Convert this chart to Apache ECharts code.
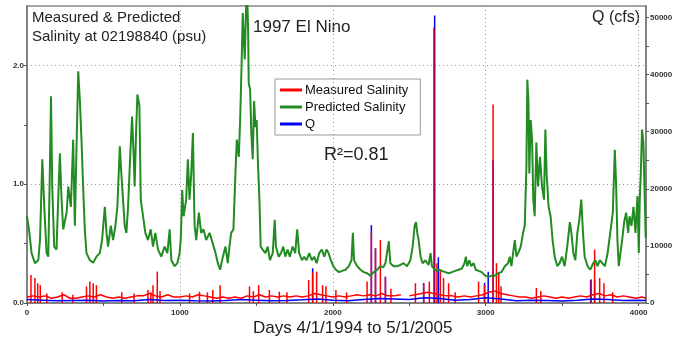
<!DOCTYPE html>
<html><head><meta charset="utf-8">
<script src="https://cdn.jsdelivr.net/npm/echarts@6/dist/echarts.min.js"></script>
<style>html,body{margin:0;padding:0;background:#fff}#c{width:686px;height:344px}</style>
</head><body><div id="c"></div>
<script>
// Predicted salinity (psu) — green
const predDays = [0,13,30,52,74,85,100,113,128,139,150,157,165,178,193,204,215,226,237,259,270,287,302,313,324,335,346,357,367,378,389,411,433,454,476,491,509,520,530,548,563,578,591,607,617,628,639,650,661,674,687,696,704,713,722,735,744,759,774,791,809,824,839,857,878,900,918,933,944,965,983,998,1006,1015,1024,1041,1052,1063,1074,1085,1096,1107,1124,1139,1154,1172,1194,1215,1233,1248,1263,1281,1298,1313,1324,1335,1350,1363,1372,1385,1394,1403,1411,1418,1424,1433,1440,1446,1450,1459,1467,1476,1485,1494,1502,1511,1520,1528,1541,1559,1574,1589,1607,1620,1628,1646,1661,1676,1689,1704,1719,1737,1754,1767,1780,1798,1813,1828,1846,1863,1878,1894,1911,1928,1944,1959,1972,1987,2003,2020,2040,2061,2083,2105,2122,2131,2139,2159,2181,2202,2224,2246,2268,2290,2311,2330,2344,2366,2376,2398,2420,2442,2463,2485,2507,2522,2535,2544,2552,2561,2574,2587,2605,2626,2639,2648,2666,2681,2696,2713,2735,2757,2779,2800,2822,2844,2861,2870,2879,2892,2905,2920,2935,2953,2974,2996,3018,3040,3060,3081,3103,3125,3146,3157,3168,3179,3190,3201,3212,3229,3244,3255,3266,3272,3279,3285,3294,3303,3311,3320,3331,3342,3355,3368,3381,3390,3398,3411,3424,3437,3451,3468,3483,3499,3516,3533,3550,3560,3573,3586,3599,3612,3625,3636,3647,3666,3683,3703,3718,3731,3746,3762,3779,3797,3814,3831,3844,3853,3861,3870,3881,3892,3905,3918,3931,3940,3953,3966,3979,3992,4001,4007,4014,4022,4031,4040,4046];
const predVals = [0.73,0.62,0.42,0.335,0.36,0.53,1.21,0.81,0.42,0.39,1.15,1.74,0.98,0.475,0.45,0.87,1.26,0.87,0.62,0.76,0.98,0.81,1.375,0.65,1.32,1.95,1.70,1.35,0.98,0.62,0.42,0.36,0.34,0.39,0.42,0.53,0.81,0.59,0.475,0.65,0.53,0.65,0.81,1.32,1.09,0.87,0.65,0.59,0.81,1.21,1.57,1.29,0.98,1.43,1.755,1.66,0.87,0.73,0.59,0.53,0.62,0.475,0.59,0.45,0.39,0.475,0.42,0.62,0.36,0.31,0.335,0.42,0.55,0.95,0.73,0.87,1.21,0.87,1.09,1.43,0.65,0.53,0.76,0.59,0.62,0.53,0.59,0.50,0.42,0.335,0.28,0.39,0.475,0.335,0.475,0.59,0.62,1.09,1.375,1.23,1.54,1.99,2.44,2.22,2.05,2.5,2.6,2.3,1.85,1.80,1.43,1.21,1.70,1.48,1.54,1.15,0.87,0.475,0.45,0.42,0.475,0.36,0.42,0.70,0.475,0.39,0.42,0.475,0.39,0.45,0.39,0.475,0.42,0.62,0.42,0.36,0.39,0.36,0.42,0.36,0.39,0.335,0.42,0.45,0.39,0.45,0.42,0.36,0.31,0.28,0.26,0.27,0.28,0.31,0.36,0.59,0.36,0.31,0.28,0.26,0.25,0.23,0.26,0.28,0.31,0.30,0.335,0.52,0.335,0.31,0.31,0.32,0.335,0.31,0.36,0.475,0.65,0.68,0.59,0.53,0.39,0.335,0.36,0.32,0.42,0.31,0.28,0.27,0.28,0.27,0.26,0.25,0.26,0.27,0.28,0.29,0.335,0.39,0.31,0.36,0.31,0.335,0.28,0.27,0.26,0.23,0.22,0.23,0.23,0.25,0.26,0.31,0.335,0.39,0.31,0.42,0.53,0.39,0.42,0.475,0.59,0.65,1.15,1.88,1.70,1.09,1.54,1.375,0.87,0.73,1.35,0.98,1.23,0.98,0.87,1.46,1.09,0.81,0.73,0.53,0.39,0.31,0.335,0.39,0.31,0.475,0.68,0.59,0.42,0.36,0.59,0.70,0.87,0.59,0.39,0.31,0.28,0.335,0.36,0.31,0.36,0.335,0.31,0.42,0.59,0.76,1.29,0.98,0.53,0.31,0.42,0.53,0.68,0.76,0.59,0.73,0.65,0.81,0.59,0.90,0.42,0.87,1.09,1.46,1.35,0.87,0.55];

// Measured salinity (psu) — red: baseline readings and spikes
const measBaseDays = [0,40,80,120,160,200,240,280,320,360,400,440,480,520,560,600,640,680,720,760,800,840,880,920,960,1000,1040,1080,1120,1160,1200,1240,1280,1320,1360,1400,1440,1480,1520,1560,1600,1640,1680,1720,1760,1800,1840,1880,1920,1960,2000,2040,2080,2120,2160,2200,2240,2280,2320,2360,2400,2445,2470,2500,2540,2580,2620,2660,2700,2740,2780,2820,2860,2900,2940,2980,3020,3060,3100,3140,3180,3220,3260,3300,3340,3380,3420,3460,3500,3540,3580,3620,3660,3700,3740,3780,3820,3860,3900,3940,3980,4020,4048];
const measBaseVals = [0.05,0.06,0.05,0.06,0.04,0.05,0.07,0.04,0.04,0.05,0.06,0.05,0.07,0.05,0.04,0.05,0.04,0.05,0.06,0.06,0.08,0.06,0.05,0.07,0.05,0.05,0.06,0.05,0.07,0.06,0.05,0.04,0.05,0.04,0.05,0.04,0.06,0.05,0.07,0.05,0.06,0.05,0.06,0.05,0.06,0.05,0.06,0.08,0.07,0.06,0.05,0.06,0.05,0.06,0.07,0.06,0.07,0.06,0.08,0.06,0.06,0.07,null,0.06,0.07,0.08,0.09,0.08,0.07,0.06,0.06,0.05,0.06,0.05,0.06,0.07,0.09,0.10,0.08,0.07,0.06,0.05,0.05,0.04,0.05,0.06,0.05,0.04,0.05,0.04,0.05,0.06,0.05,0.07,0.08,0.06,0.07,0.05,0.06,0.05,0.04,0.05,0.04];
const measSpikeDays = [26,52,70,87,130,230,300,389,411,433,454,620,700,791,810,824,852,870,1063,1128,1180,1215,1263,1455,1480,1515,1585,1650,1700,1842,1868,1894,1933,1955,2020,2090,2224,2252,2279,2311,2344,2380,2540,2594,2631,2661,2681,2703,2724,2757,2800,2953,2992,3048,3070,3085,3100,3331,3360,3690,3712,3745,3773,3830];
const measSpikeVals = [0.236,0.21,0.166,0.15,0.08,0.09,0.07,0.14,0.18,0.166,0.15,0.09,0.08,0.11,0.09,0.15,0.264,0.10,0.08,0.095,0.09,0.11,0.15,0.14,0.10,0.15,0.11,0.095,0.09,0.194,0.256,0.264,0.15,0.14,0.11,0.09,0.18,0.59,0.46,0.53,0.22,0.12,0.166,0.16,0.18,2.32,0.335,0.28,0.21,0.166,0.09,0.18,0.15,1.67,0.335,0.256,0.14,0.127,0.10,0.20,0.45,0.21,0.166,0.09];

// Q (cfs) — blue
const qBaseDays = [0,100,200,300,400,500,600,700,800,900,1000,1100,1200,1300,1400,1500,1600,1700,1800,1900,2000,2100,2200,2300,2400,2500,2600,2700,2800,2900,3000,3100,3200,3300,3400,3500,3600,3700,3800,3900,4000,4048];
const qBaseVals = [600,500,400,450,500,350,450,400,600,450,500,400,350,450,600,500,400,450,550,700,500,400,600,800,700,600,900,800,500,600,900,700,400,500,450,350,500,700,600,450,500,450];
const qSpikeDays = [1868,2252,2279,2344,2594,2666,2690,2992,3016,3048,3686,3712];
const qSpikeVals = [6070,13640,9560,4600,3500,50350,8000,3500,5470,25000,4000,4000];

const xLabels = [0,1000,2000,3000,4000];
const leftLabels = [0,1,2];
const rightLabels = [0,10000,20000,30000,40000,50000];

const pairs = (a, b) => a.map((d, i) => [d, b[i]]);
const FONT = 'Liberation Sans, Arial, sans-serif';
const tickLbl = {fontSize: 8, fontWeight: 'bold', color: '#333', fontFamily: FONT};

const chart = echarts.init(document.getElementById('c'), null, {renderer: 'canvas'});
chart.setOption({
  animation: false,
  backgroundColor: '#fff',
  grid: {left: 27, right: 40, top: 6, bottom: 41, show: true, borderColor: '#888', borderWidth: 1.5},
  xAxis: {
    type: 'value', min: 0, max: 4048, interval: 500,
    axisLine: {lineStyle: {color: '#777', width: 1.5}},
    axisTick: {length: 3, lineStyle: {color: '#555'}},
    axisLabel: Object.assign({margin: 6, showMaxLabel: false,
      formatter: v => xLabels.includes(v) ? String(v) : ''}, tickLbl),
    splitLine: {show: true, lineStyle: {type: [1, 3], color: ['#999', 'transparent'], width: 1}}
  },
  yAxis: [{
    type: 'value', min: 0, max: 2.5, interval: 0.5, position: 'left',
    axisLine: {show: true, lineStyle: {color: '#777', width: 1.5}},
    axisTick: {show: true, length: 3, lineStyle: {color: '#555'}},
    axisLabel: Object.assign({margin: 3, showMaxLabel: false,
      formatter: v => leftLabels.includes(v) ? v.toFixed(1) : ''}, tickLbl),
    splitLine: {show: true, lineStyle: {type: [1, 3], color: ['#999', 'transparent'], width: 1}}
  }, {
    type: 'value', min: 0, max: 52000, interval: 5000, position: 'right',
    axisLine: {show: true, lineStyle: {color: '#777', width: 1.5}},
    axisTick: {show: true, length: 3, lineStyle: {color: '#555'}},
    axisLabel: Object.assign({margin: 4, showMaxLabel: false,
      formatter: v => rightLabels.includes(v) ? String(v) : ''}, tickLbl),
    splitLine: {show: false}
  }],
  legend: {
    data: ['Measured Salinity', 'Predicted Salinity', 'Q'],
    orient: 'vertical', left: 275, top: 79, icon: 'rect',
    itemWidth: 22, itemHeight: 3, itemGap: 1, padding: [3, 12, 3, 5],
    borderColor: '#999', borderWidth: 1,
    textStyle: {fontSize: 13, color: '#111', fontFamily: FONT, lineHeight: 16, padding: [0, 0, 0, -2]}
  },
  series: [
    {name: 'Predicted Salinity', type: 'line', yAxisIndex: 0, data: pairs(predDays, predVals),
     showSymbol: false, lineStyle: {color: '#228b22', width: 2}, itemStyle: {color: '#228b22'}},
    {name: 'Q', type: 'line', yAxisIndex: 1, data: pairs(qBaseDays, qBaseVals),
     showSymbol: false, lineStyle: {color: '#0000ff', width: 1.5}, itemStyle: {color: '#0000ff'}},
    {name: 'Q peaks', type: 'bar', yAxisIndex: 1, data: pairs(qSpikeDays, qSpikeVals),
     barWidth: 1.5, barGap: '-100%', itemStyle: {color: '#0000ff'}},
    {name: 'Measured Salinity', type: 'line', yAxisIndex: 0, data: pairs(measBaseDays, measBaseVals),
     showSymbol: false, connectNulls: false, lineStyle: {color: '#ff0000', width: 1.5}, itemStyle: {color: '#ff0000'}},
    {name: 'Measured peaks', type: 'bar', yAxisIndex: 0, data: pairs(measSpikeDays, measSpikeVals),
     barWidth: 1.5, barGap: '-100%', itemStyle: {color: '#ff0000'}}
  ],
  graphic: [
    {type: 'text', left: 32, top: 8, style: {text: 'Measured & Predicted\nSalinity at 02198840 (psu)', fontSize: 15, lineHeight: 19, fill: '#222', fontFamily: FONT}},
    {type: 'text', left: 253, top: 19, style: {text: '1997 El Nino', fontSize: 17, fill: '#222', fontFamily: FONT}},
    {type: 'text', right: 46, top: 10, style: {text: 'Q (cfs)', fontSize: 16, fill: '#222', fontFamily: FONT}},
    {type: 'text', left: 324, top: 146, style: {text: 'R²=0.81', fontSize: 18, fill: '#222', fontFamily: FONT}},
    {type: 'text', left: 253, top: 320, style: {text: 'Days 4/1/1994 to 5/1/2005', fontSize: 17, fill: '#222', fontFamily: FONT}}
  ]
});
</script></body></html>
